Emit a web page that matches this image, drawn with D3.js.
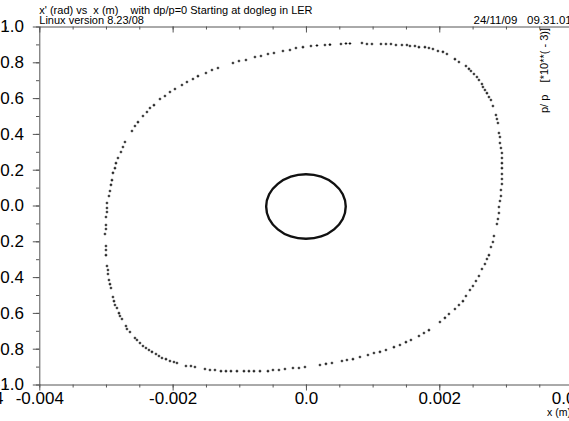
<!DOCTYPE html>
<html>
<head>
<meta charset="utf-8">
<script src="https://cdn.jsdelivr.net/npm/d3@7"></script>
<style>
  html, body { margin: 0; padding: 0; background: #fff; overflow: hidden; }
  svg { display: block; font-family: "Liberation Sans", Arial, sans-serif; }
  text { white-space: pre; }
</style>
</head>
<body>
<svg id="chart" width="569" height="421"></svg>
<script>
// Tracked particle, large amplitude: x (m) and x' (rad) per turn
const outerX = [
  -0.00015, -0.000045, 0.000075, 0.000165, 0.000285, 0.00036, 0.000525, 0.0006, 0.00066,
  0.00084, 0.000915, 0.00099, 0.001125, 0.0012, 0.001275, 0.00135, 0.00144, 0.001515, 0.00156,
  0.001635, 0.001695, 0.001785, 0.001845, 0.001905, 0.00198, 0.002055, 0.002115, 0.002235, 0.002295,
  0.0024, 0.002445, 0.002475, 0.00252, 0.002565, 0.002595, 0.00264, 0.002655, 0.002685, 0.002715,
  0.002745, 0.002775, 0.002805, 0.00285, 0.002865, 0.00288, 0.002895, 0.00291, 0.00291, 0.002925,
  0.00294, 0.00294, 0.00294, 0.00294, 0.00294, 0.00294, 0.00294, 0.002925, 0.002925, 0.00291,
  0.002895, 0.002895, 0.00288, 0.002865, 0.00282, 0.002805, 0.002775, 0.002745, 0.002715, 0.002685,
  0.00264, 0.002595, 0.00255, 0.002505, 0.00246, 0.0024, 0.002355, 0.002295, 0.002235, 0.002145,
  0.002085, 0.00201, 0.001845, 0.00177,
  0.001695, 0.001575, 0.0015, 0.00141, 0.00132, 0.0012, 0.00111, 0.00102, 0.00093, 0.00081,
  0.000705, 0.000615, 0.00054, 0.00039, 0.0003, 0.00021, -0.000015, -0.000105, -0.000195, -0.000315,
  -0.000405, -0.000495, -0.00057, -0.00069, -0.00078, -0.000855, -0.00093, -0.001035, -0.001125, -0.0012,
  -0.001275, -0.001365, -0.00144, -0.001515, -0.001665, -0.001725,
  -0.0018, -0.001935, -0.00198, -0.00204, -0.0021, -0.00216, -0.002205, -0.00225, -0.00231, -0.002355,
  -0.0024, -0.002445, -0.00249, -0.002535, -0.002565, -0.00264, -0.002685, -0.0027, -0.00276, -0.00279,
  -0.002805, -0.002835, -0.002865, -0.00288, -0.002895, -0.002925, -0.00294, -0.002955, -0.00297, -0.00297,
  -0.002985, -0.003, -0.003, -0.003, -0.003015, -0.003, -0.003, -0.003, -0.002985, -0.002985,
  -0.002985, -0.002955, -0.00294, -0.002925, -0.00291, -0.002895, -0.002865, -0.00285, -0.00282, -0.002775,
  -0.002745, -0.002715,
  -0.00261, -0.002565, -0.00252, -0.002445, -0.002385, -0.00234, -0.00228, -0.00219, -0.002115, -0.00204,
  -0.001965, -0.00186, -0.001785, -0.001695, -0.00162, -0.0015, -0.00141, -0.00132, -0.001095, -0.001005,
  -0.0009, -0.000765, -0.000675, -0.00057, -0.00048, -0.000345, -0.00024
];
const outerXp = [
  0.880, 0.885, 0.891, 0.894, 0.897, 0.899, 0.902, 0.905, 0.905,
  0.908, 0.902, 0.902, 0.902, 0.902, 0.902, 0.897, 0.897, 0.897, 0.891,
  0.891, 0.885, 0.885, 0.880, 0.874, 0.863, 0.858, 0.846, 0.818, 0.802,
  0.779, 0.763, 0.751, 0.735, 0.718, 0.701, 0.679, 0.662, 0.645, 0.628,
  0.606, 0.589, 0.556, 0.506, 0.483, 0.461, 0.405, 0.383, 0.349, 0.321,
  0.293, 0.265, 0.237, 0.209, 0.176, 0.148, 0.120, 0.087, 0.053, 0.025,
  -0.008, -0.042, -0.075, -0.103, -0.170, -0.204, -0.232, -0.277, -0.299, -0.327,
  -0.355, -0.394, -0.422, -0.450, -0.472, -0.506, -0.534, -0.556, -0.578, -0.606,
  -0.628, -0.651, -0.696, -0.712,
  -0.729, -0.751, -0.763, -0.779, -0.791, -0.807, -0.818, -0.824, -0.835, -0.846,
  -0.858, -0.863, -0.869, -0.880, -0.885, -0.891, -0.902, -0.908, -0.908, -0.913,
  -0.919, -0.919, -0.925, -0.925, -0.925, -0.925, -0.925, -0.925, -0.925, -0.925,
  -0.925, -0.919, -0.919, -0.913, -0.902, -0.897,
  -0.897, -0.880, -0.874, -0.869, -0.858, -0.852, -0.841, -0.830, -0.818, -0.807,
  -0.796, -0.785, -0.768, -0.751, -0.740, -0.707, -0.690, -0.673, -0.634, -0.617,
  -0.601, -0.573, -0.556, -0.534, -0.511, -0.461, -0.439, -0.416, -0.383, -0.360,
  -0.338, -0.277, -0.249, -0.226, -0.159, -0.131, -0.109, -0.064, -0.036, -0.014,
  0.014, 0.053, 0.081, 0.115, 0.142, 0.182, 0.209, 0.237, 0.265, 0.299,
  0.327, 0.355,
  0.416, 0.444, 0.466, 0.500, 0.522, 0.545, 0.561, 0.595, 0.612, 0.634,
  0.651, 0.673, 0.690, 0.707, 0.723, 0.740, 0.757, 0.768, 0.796, 0.807,
  0.813, 0.830, 0.835, 0.846, 0.852, 0.863, 0.869
];

// Small-amplitude particle: closed ellipse
const innerX = [0.000597, 0.000552, 0.000422, 0.000228, 0, -0.000228, -0.000422, -0.000552,
  -0.000597, -0.000552, -0.000422, -0.000228, 0, 0.000228, 0.000422, 0.000552];
const innerXp = [-0.006, 0.063, 0.121, 0.161, 0.175, 0.161, 0.121, 0.063,
  -0.006, -0.075, -0.133, -0.173, -0.186, -0.173, -0.133, -0.075];

// Axis ticks and labels
const xMajor = [-0.004, -0.002, 0, 0.002, 0.004];
const xMajorLabels = ["-0.004", "-0.002", "0.0", "0.002", "0.004"];
const xMinor = d3.range(-16, 17).map(k => k * 0.0005);
const yMajor = [1, 0.8, 0.6, 0.4, 0.2, 0, -0.2, -0.4, -0.6, -0.8, -1];
const yMajorLabels = ["1.0", "0.8", "0.6", "0.4", "0.2", "0.0", "-0.2", "-0.4", "-0.6", "-0.8", "-1.0"];
const yMinor = d3.range(-10, 11).map(k => k / 10);

const titleText = "x' (rad) vs  x (m)    with dp/p=0 Starting at dogleg in LER";
const versionText = "Linux version 8.23/08";
const dateText = "24/11/09   09.31.01";
const rightAxisTitle = "p/ p    [*10**( - 3)]";
const xAxisTitle = "x (m)";

const svg = d3.select("#chart");
const x = d3.scaleLinear().domain([-0.004, 0.004]).range([39.3, 572.6]);
const y = d3.scaleLinear().domain([-1, 1]).range([384.5, 26.5]);
const axisColor = "#555";

function styleAxis(g) {
  g.selectAll("path.domain").attr("stroke", axisColor).attr("stroke-width", 1);
  g.selectAll(".tick line").attr("stroke", axisColor).attr("stroke-width", 1);
  g.selectAll(".tick text").attr("fill", "#000")
    .style("font-family", "'Liberation Sans', Arial, sans-serif").style("font-size", "17px");
}

// Bottom axis
const gB = svg.append("g").attr("transform", `translate(0,${y(-1)})`)
  .call(d3.axisBottom(x).tickValues(xMinor).tickSize(3).tickSizeOuter(0).tickFormat(""));
gB.select("path.domain").remove();
styleAxis(gB);
const gB2 = svg.append("g").attr("transform", `translate(0,${y(-1)})`)
  .call(d3.axisBottom(x).tickValues(xMajor).tickSize(6).tickSizeOuter(0).tickPadding(1.5)
    .tickFormat((d, i) => xMajorLabels[i]));
styleAxis(gB2);

// Top axis (ticks point inward)
const gT = svg.append("g").attr("transform", `translate(0,${y(1)})`)
  .call(d3.axisTop(x).tickValues(xMinor).tickSize(-3).tickSizeOuter(0).tickFormat(""));
gT.select("path.domain").remove();
styleAxis(gT);
const gT2 = svg.append("g").attr("transform", `translate(0,${y(1)})`)
  .call(d3.axisTop(x).tickValues(xMajor).tickSize(-6).tickSizeOuter(0).tickFormat(""));
styleAxis(gT2);

// Left axis
const gL = svg.append("g").attr("transform", `translate(${x(-0.004)},0)`)
  .call(d3.axisLeft(y).tickValues(yMinor).tickSize(3.3).tickSizeOuter(0).tickFormat(""));
gL.select("path.domain").remove();
styleAxis(gL);
const gL2 = svg.append("g").attr("transform", `translate(${x(-0.004)},0)`)
  .call(d3.axisLeft(y).tickValues(yMajor).tickSize(6.5).tickSizeOuter(0).tickPadding(8.8)
    .tickFormat((d, i) => yMajorLabels[i]));
styleAxis(gL2);

// Header texts
const txt = (t, px, py, size) => svg.append("text").attr("x", px).attr("y", py)
  .attr("font-size", size).attr("fill", "#000").text(t);
txt(titleText, 39.3, 14, 11);
txt(versionText, 39.3, 24, 11);
txt(dateText, 473.5, 24, 11.5);
txt(xAxisTitle, 547, 416, 10.5);
txt("4", 3.5, 404, 17).attr("text-anchor", "end");

svg.append("text")
  .attr("transform", "translate(548,113) rotate(-90)")
  .attr("font-size", 11).attr("fill", "#000")
  .text(rightAxisTitle);

// Inner ellipse
const ellipse = d3.line()
  .x(d => x(d[0])).y(d => y(d[1]))
  .curve(d3.curveCatmullRomClosed);
svg.append("path")
  .datum(innerX.map((v, i) => [v, innerXp[i]]))
  .attr("d", ellipse)
  .attr("fill", "none").attr("stroke", "#111").attr("stroke-width", 2.4);

// Outer turn-by-turn points, drawn as small crosses
svg.append("g").selectAll("path")
  .data(outerX.map((v, i) => [v, outerXp[i]]))
  .join("path")
  .attr("d", d => {
    const cx = x(d[0]), cy = y(d[1]);
    return `M${cx - 1.3},${cy}h2.6M${cx},${cy - 1.3}v2.6`;
  })
  .attr("stroke", "#111").attr("stroke-width", 1.1).attr("fill", "none");
</script>
</body>
</html>
